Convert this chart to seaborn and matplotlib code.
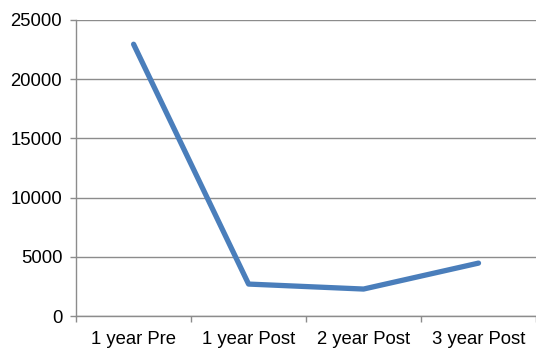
import matplotlib
matplotlib.use("Agg")
import matplotlib.pyplot as plt
import seaborn as sns
import pandas as pd
from matplotlib.ticker import FixedLocator, NullFormatter, FixedFormatter

categories = ["1 year Pre", "1 year Post", "2 year Post", "3 year Post"]
values = [22950, 2700, 2280, 4470]
y_ticks = [0, 5000, 10000, 15000, 20000, 25000]

sns.set_theme(style="white")
plt.rcParams['font.family'] = ['Liberation Sans', 'DejaVu Sans']

df = pd.DataFrame({"cat": categories, "val": values, "pos": list(range(len(categories)))})

fig = plt.figure(figsize=(5.36, 3.5), dpi=100)
ax = fig.add_axes([0.142, 0.097, 0.858, 0.846])

sns.lineplot(data=df, x="pos", y="val", ax=ax, color="#4A7EBB", linewidth=3.8,
             solid_capstyle="round", solid_joinstyle="round", legend=False)

ax.set_xlim(-0.5, 3.5)
ax.set_ylim(0, 25000)
ax.set_yticks(y_ticks)
ax.set_yticklabels([str(v) for v in y_ticks])
ax.yaxis.grid(True, color="#8C8C8C", linewidth=1.0)
ax.set_axisbelow(True)

ax.xaxis.set_major_locator(FixedLocator([-0.5, 0.5, 1.5, 2.5, 3.5]))
ax.xaxis.set_major_formatter(NullFormatter())
ax.xaxis.set_minor_locator(FixedLocator(df["pos"].tolist()))
ax.xaxis.set_minor_formatter(FixedFormatter(categories))
ax.tick_params(axis="x", which="major", direction="out", length=4.5, width=1.0, color="#8C8C8C", bottom=True)
ax.tick_params(axis="x", which="minor", length=0, pad=10.5, labelsize=13.3, colors="black", bottom=True)
ax.tick_params(axis="y", which="major", direction="out", length=4.5, width=1.0, color="#8C8C8C",
               pad=5.5, labelsize=13.3, labelcolor="black", left=True)

for s in ["top", "right"]:
    ax.spines[s].set_visible(False)
for s in ["left", "bottom"]:
    ax.spines[s].set_color("#8C8C8C")
    ax.spines[s].set_linewidth(1.0)

ax.set_xlabel("")
ax.set_ylabel("")

fig.savefig("out.png", dpi=100)
